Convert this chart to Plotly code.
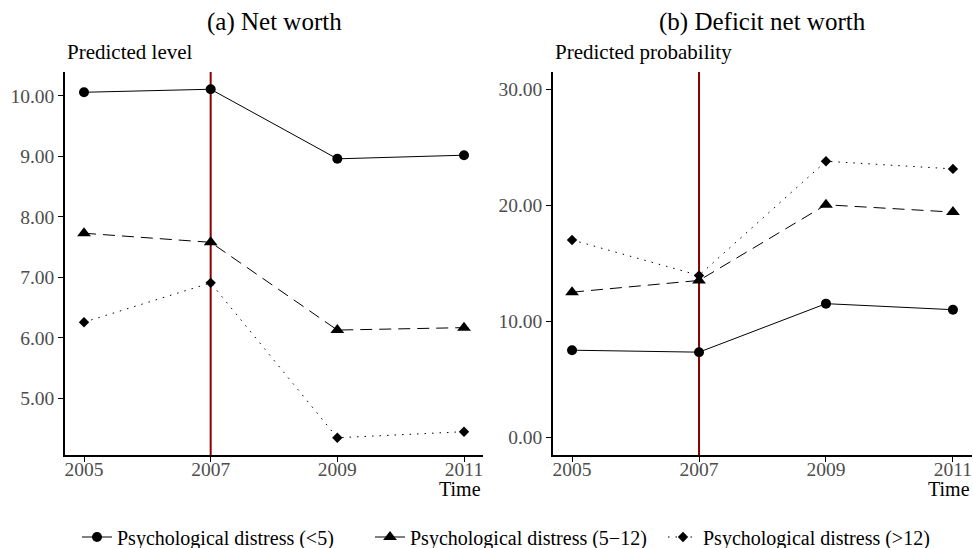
import plotly.graph_objects as go

years = [2005, 2007, 2009, 2011]
series_names = ["Psychological distress (<5)", "Psychological distress (5\u221212)", "Psychological distress (>12)"]

# (a) Net worth - predicted level
networth_low = [10.06, 10.11, 8.96, 9.02]
networth_mid = [7.73, 7.58, 6.13, 6.17]
networth_high = [6.26, 6.91, 4.35, 4.45]

# (b) Deficit net worth - predicted probability
deficit_low = [7.53, 7.36, 11.54, 11.02]
deficit_mid = [12.53, 13.54, 20.06, 19.43]
deficit_high = [17.03, 13.97, 23.81, 23.15]

x_ticks = [2005, 2007, 2009, 2011]
y1_ticks = [5, 6, 7, 8, 9, 10]
y2_ticks = [0, 10, 20, 30]
event_year = 2007

FONT = "Liberation Serif"
W, H = 973, 548

styles = [
    dict(dash="solid", symbol="circle", size=10),
    dict(dash="12px,7px", symbol="triangle-up", size=12),
    dict(dash="1.5px,6px", symbol="diamond", size=8),
]

fig = go.Figure()

for i, (vals, st) in enumerate(zip([networth_low, networth_mid, networth_high], styles)):
    fig.add_trace(go.Scatter(
        x=years, y=vals, mode="lines+markers", name=series_names[i],
        line=dict(color="black", width=1, dash=st["dash"]),
        marker=dict(color="black", symbol=st["symbol"], size=st["size"]),
        xaxis="x", yaxis="y", legendgroup=str(i), showlegend=True,
    ))
for i, (vals, st) in enumerate(zip([deficit_low, deficit_mid, deficit_high], styles)):
    fig.add_trace(go.Scatter(
        x=years, y=vals, mode="lines+markers", name=series_names[i],
        line=dict(color="black", width=1, dash=st["dash"]),
        marker=dict(color="black", symbol=st["symbol"], size=st["size"]),
        xaxis="x2", yaxis="y2", legendgroup=str(i), showlegend=False,
    ))

xd1 = [65 / W, 483 / W]
xd2 = [553 / W, 972 / W]
yd = [1 - 455 / H, 1 - 72 / H]

axis_common = dict(
    showline=True, linecolor="black", linewidth=1.5,
    ticks="outside", ticklen=5, tickcolor="black", tickwidth=1.2,
    showgrid=False, zeroline=False, automargin=False,
    tickfont=dict(family=FONT, size=19.5, color="#4D4D4D"),
)
xaxis_extra = dict(ticklabelstandoff=-9)

fig.update_layout(
    width=W, height=H,
    margin=dict(l=0, r=0, t=0, b=0, autoexpand=False),
    paper_bgcolor="white", plot_bgcolor="white",
    font=dict(family=FONT, color="black"),
    xaxis=dict(domain=xd1, range=[2004.7, 2011.3], tickvals=x_ticks, anchor="y", **axis_common, **xaxis_extra),
    yaxis=dict(domain=yd, range=[4.065, 10.395], tickvals=y1_ticks, tickformat=".2f", anchor="x", **axis_common),
    xaxis2=dict(domain=xd2, range=[2004.7, 2011.3], tickvals=x_ticks, anchor="y2", **axis_common, **xaxis_extra),
    yaxis2=dict(domain=yd, range=[-1.5, 31.5], tickvals=y2_ticks, tickformat=".2f", anchor="x2", **axis_common),
    legend=dict(
        orientation="h", x=77 / W, xanchor="left", y=(H - 537) / H, yanchor="middle",
        font=dict(family=FONT, size=20, color="black"),
        itemwidth=30, entrywidth=248, bgcolor="rgba(0,0,0,0)",
    ),
    shapes=[
        dict(type="line", xref="x", yref="y domain", x0=event_year, x1=event_year, y0=0, y1=1,
             line=dict(color="#8B0000", width=2), layer="below"),
        dict(type="line", xref="x2", yref="y2 domain", x0=event_year, x1=event_year, y0=0, y1=1,
             line=dict(color="#8B0000", width=2), layer="below"),
    ],
    annotations=[
        dict(text="(a) Net worth", xref="paper", yref="paper", x=(xd1[0] + xd1[1]) / 2, y=1 - 22 / H,
             xanchor="center", yanchor="middle", showarrow=False, font=dict(family=FONT, size=25, color="black")),
        dict(text="(b) Deficit net worth", xref="paper", yref="paper", x=(xd2[0] + xd2[1]) / 2, y=1 - 22 / H,
             xanchor="center", yanchor="middle", showarrow=False, font=dict(family=FONT, size=25, color="black")),
        dict(text="Predicted level", xref="paper", yref="paper", x=xd1[0], y=1 - 52 / H,
             xanchor="left", yanchor="middle", showarrow=False, font=dict(family=FONT, size=21, color="black")),
        dict(text="Predicted probability", xref="paper", yref="paper", x=xd2[0], y=1 - 52 / H,
             xanchor="left", yanchor="middle", showarrow=False, font=dict(family=FONT, size=21, color="black")),
        dict(text="Time", xref="paper", yref="paper", x=xd1[1], y=1 - 489 / H,
             xanchor="right", yanchor="middle", showarrow=False, font=dict(family=FONT, size=20, color="black")),
        dict(text="Time", xref="paper", yref="paper", x=xd2[1], y=1 - 489 / H,
             xanchor="right", yanchor="middle", showarrow=False, font=dict(family=FONT, size=20, color="black")),
    ],
)

fig.write_html(
    "out.html",
    config={"displayModeBar": False},
    post_script="document.body.style.margin='0';document.body.style.overflow='hidden';",
)
